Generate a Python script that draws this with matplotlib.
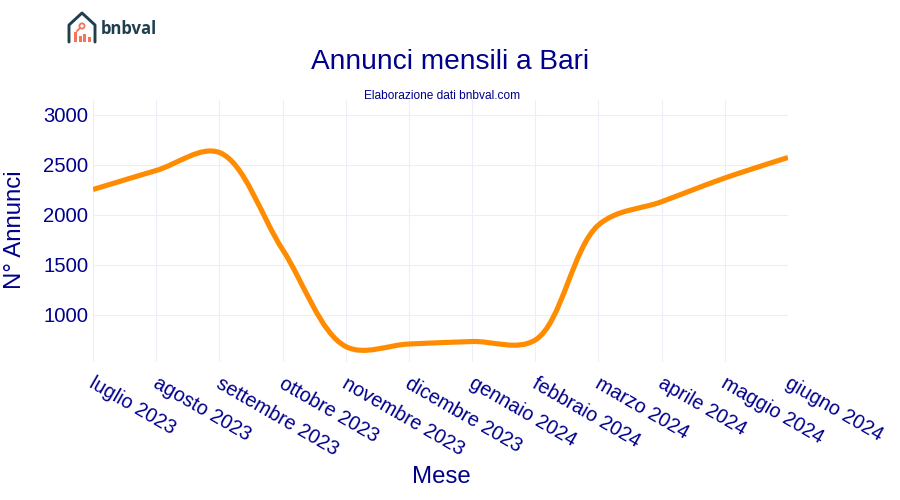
import numpy as np
import matplotlib
matplotlib.use("Agg")
import matplotlib.pyplot as plt
from matplotlib.path import Path
from matplotlib.patches import PathPatch, Rectangle, Circle
from matplotlib.transforms import ScaledTranslation

plt.rcParams['font.family'] = ['Liberation Sans', 'DejaVu Sans']

months = ["luglio 2023", "agosto 2023", "settembre 2023", "ottobre 2023", "novembre 2023",
          "dicembre 2023", "gennaio 2024", "febbraio 2024", "marzo 2024", "aprile 2024",
          "maggio 2024", "giugno 2024"]
listings = [2250, 2440, 2620, 1650, 680, 705, 730, 745, 1895, 2128, 2365, 2570]
y_ticks = [1000, 1500, 2000, 2500, 3000]

NAVY = "#00008B"
ORANGE = "#FF8C00"
GRID = "#EBF0F8"
W, H = 900, 500
L, R, T, B = 93, 788, 100, 362
Y_LOW, Y_HIGH = 525, 3145
SMOOTH = 1.0

fig = plt.figure(figsize=(W / 100, H / 100), dpi=100, facecolor="white")
ax = fig.add_axes([L / W, 1 - B / H, (R - L) / W, (B - T) / H])
xs = np.arange(len(months))
ax.set_xlim(0, len(months) - 1)
ax.set_ylim(Y_LOW, Y_HIGH)


def spline_path(x, y, smoothing):
    """Cardinal-style smoothing evaluated in screen space, as the original chart's renderer does."""
    sx = (R - L) / (x[-1] - x[0])
    sy = (B - T) / (Y_HIGH - Y_LOW)
    p = np.column_stack([np.asarray(x, float) * sx, np.asarray(y, float) * sy])
    cps = []
    for i in range(1, len(p) - 1):
        d1 = p[i - 1] - p[i]
        d2 = p[i + 1] - p[i]
        a1 = np.hypot(*d1) ** 0.5
        a2 = np.hypot(*d2) ** 0.5
        num = (a2 ** 2 * d1 - a1 ** 2 * d2) * smoothing
        cps.append((p[i] + num / (3 * a2 * (a1 + a2)), p[i] - num / (3 * a1 * (a1 + a2))))
    verts = [p[0], cps[0][0], p[1]]
    codes = [Path.MOVETO, Path.CURVE3, Path.CURVE3]
    for i in range(1, len(p) - 2):
        verts += [cps[i - 1][1], cps[i][0], p[i + 1]]
        codes += [Path.CURVE4] * 3
    verts += [cps[-1][1], p[-1]]
    codes += [Path.CURVE3] * 2
    return Path(np.array(verts) / [sx, sy], codes)


ax.add_patch(PathPatch(spline_path(xs, listings, SMOOTH), fill=False, edgecolor=ORANGE,
                       linewidth=3.7, capstyle="butt", joinstyle="round", zorder=3))

for s in ax.spines.values():
    s.set_visible(False)
ax.grid(True, color=GRID, linewidth=0.75)
ax.set_axisbelow(True)
ax.tick_params(length=0, colors=NAVY)
ax.set_yticks(y_ticks)
ax.set_yticklabels([str(v) for v in y_ticks], fontsize=14.6, color=NAVY)
ax.tick_params(axis="y", pad=3.5)
ax.set_xticks(xs)
ax.set_xticklabels(months, fontsize=14.2, color=NAVY, rotation=-30, ha="left", va="top",
                   rotation_mode="anchor")
ax.tick_params(axis="x", pad=8.5)
for lab in ax.get_xticklabels():
    lab.set_transform(lab.get_transform() + ScaledTranslation(3 / 100, 0, fig.dpi_scale_trans))

fig.text(450 / W, 1 - 62 / H, "Annunci mensili a Bari", fontsize=20.2, color=NAVY, ha="center", va="center")
fig.text(442 / W, 1 - 95.5 / H, "Elaborazione dati bnbval.com", fontsize=8.6, color=NAVY, ha="center", va="center")
fig.text(441 / W, 1 - 477 / H, "Mese", fontsize=17.3, color=NAVY, ha="center", va="center")
fig.text(15 / W, 1 - 230 / H, "N° Annunci", fontsize=17.3, color=NAVY, ha="center", va="center", rotation=90)

# Logo, drawn in a full-figure pixel overlay
logo = fig.add_axes([0, 0, 1, 1], facecolor="none")
logo.set_xlim(0, W)
logo.set_ylim(H, 0)
logo.axis("off")
DARK = "#1F3F4F"
SALMON = "#F4735B"
logo.plot([69, 69, 82, 95, 95], [42, 25, 13, 25, 42], color=DARK, lw=2.1, solid_capstyle="round",
          solid_joinstyle="round")
for bx, bh in zip([74, 78.5, 83, 87.5], [10, 6, 8, 5]):
    logo.add_patch(Rectangle((bx, 42 - bh), 3, bh, color=SALMON, lw=0))
logo.add_patch(Circle((82, 26), 2.6, fill=False, edgecolor=SALMON, lw=1.3))
logo.plot([80, 77], [28, 31], color=SALMON, lw=1.3)
logo.text(100.5, 29.5, "bnbval", fontsize=12, fontweight="bold", color=DARK, ha="left", va="center",
          family=["Open Sans", "DejaVu Sans"])

fig.savefig("out.png", dpi=100)
